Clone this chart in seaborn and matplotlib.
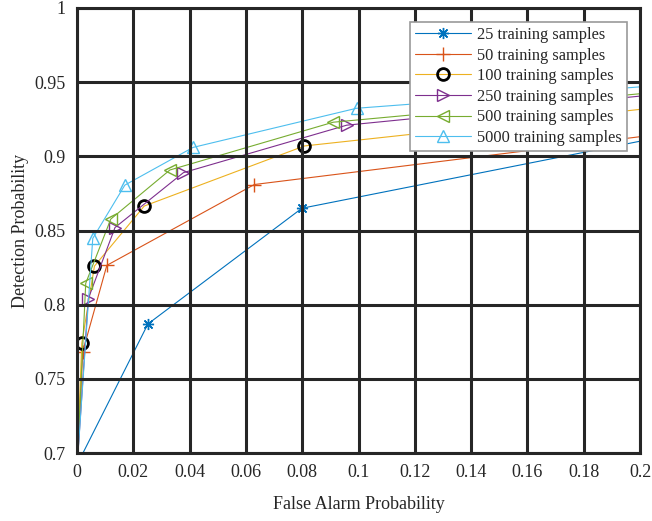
import matplotlib
matplotlib.use("Agg")
import matplotlib.pyplot as plt
import seaborn as sns
import pandas as pd

# Data
x_25 = [0.0, 0.0252, 0.0799, 0.25]
y_25 = [0.692, 0.787, 0.865, 0.929]
x_50 = [0.0, 0.0020, 0.0106, 0.0630, 0.25]
y_50 = [0.684, 0.768, 0.8265, 0.881, 0.925]
x_100 = [0.0, 0.0017, 0.0062, 0.0239, 0.0808, 0.25]
y_100 = [0.690, 0.774, 0.826, 0.8665, 0.907, 0.942]
x_250 = [0.0, 0.0040, 0.0135, 0.0378, 0.0958, 0.25]
y_250 = [0.690, 0.804, 0.852, 0.889, 0.921, 0.950]
x_500 = [0.0, 0.0031, 0.0120, 0.0330, 0.0910, 0.25]
y_500 = [0.690, 0.8144, 0.8577, 0.8908, 0.923, 0.951]
x_5000 = [0.0, 0.0056, 0.0170, 0.0412, 0.0993, 0.25]
y_5000 = [0.690, 0.8447, 0.8806, 0.906, 0.9324, 0.954]

labels = ["25 training samples", "50 training samples", "100 training samples",
          "250 training samples", "500 training samples", "5000 training samples"]
xticks = [0, 0.02, 0.04, 0.06, 0.08, 0.1, 0.12, 0.14, 0.16, 0.18, 0.2]
xtick_labels = ["0", "0.02", "0.04", "0.06", "0.08", "0.1", "0.12", "0.14", "0.16", "0.18", "0.2"]
yticks = [0.7, 0.75, 0.8, 0.85, 0.9, 0.95, 1.0]
ytick_labels = ["0.7", "0.75", "0.8", "0.85", "0.9", "0.95", "1"]

sns.set_theme(style="white")
plt.rcParams["font.family"] = ["Liberation Serif", "DejaVu Serif"]
plt.rcParams["mathtext.fontset"] = "stix"

fig = plt.figure(figsize=(6.52, 5.21), dpi=100)
ax = fig.add_axes([77/652, 1-453/521, (640-77)/652, (453-8)/521])

series = [
    (x_25, y_25, "#0072BD", (8, 2, 0), "#0072BD", 8),
    (x_50, y_50, "#D95319", "+", "#D95319", 10),
    (x_100, y_100, "#EDB120", "o", "black", 8.5),
    (x_250, y_250, "#7E2F8E", ">", "#7E2F8E", 8.5),
    (x_500, y_500, "#77AC30", "<", "#77AC30", 8.5),
    (x_5000, y_5000, "#4DBEEE", "^", "#4DBEEE", 8.5),
]
for (xs, ys, col, mk, mec, ms), lab in zip(series, labels):
    df = pd.DataFrame({"x": xs, "y": ys})
    mew = 2.0 if mk == "o" else 1.0
    sns.lineplot(data=df, x="x", y="y", ax=ax, color=col, linewidth=0.8,
                 marker=mk, markersize=ms, markerfacecolor="none",
                 markeredgecolor=mec, markeredgewidth=mew, label=lab,
                 errorbar=None, sort=False)

ax.set_xlim(0, 0.2)
ax.set_ylim(0.7, 1.0)
ax.set_xticks(xticks)
ax.set_xticklabels(xtick_labels)
ax.set_yticks(yticks)
ax.set_yticklabels(ytick_labels)
ax.set_axisbelow(False)
ax.grid(True, color="#262626", linewidth=2.2, alpha=1)
for s in ax.spines.values():
    s.set_color("#262626")
    s.set_linewidth(2.2)
ax.tick_params(axis="both", which="both", length=0, labelsize=13, pad=8, colors="#262626")
ax.set_xlabel("False Alarm Probability", fontsize=13, labelpad=11, color="#262626")
ax.set_ylabel("Detection Probability", fontsize=13, labelpad=4, color="#262626")

leg = ax.legend(loc="upper right", bbox_to_anchor=(627/652, 1-22/521),
                bbox_transform=fig.transFigure, fontsize=11.8, frameon=True,
                fancybox=False, framealpha=1, edgecolor="#9a9a9a",
                borderpad=0.3, labelspacing=0.28, handlelength=3.4,
                handletextpad=0.4, borderaxespad=0)
leg.get_frame().set_linewidth(1.2)
for t in leg.get_texts():
    t.set_color("#262626")

fig.savefig("out.png", dpi=100)
